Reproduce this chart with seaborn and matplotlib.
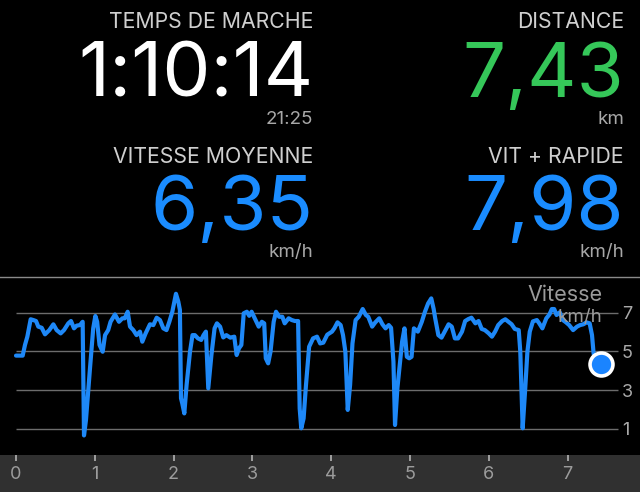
import matplotlib
matplotlib.use('Agg')
import matplotlib.pyplot as plt
from matplotlib.patches import Rectangle
import seaborn as sns

# speed trace: distance (km) vs speed (km/h)
dist = [0.00, 0.085, 0.114, 0.144, 0.186, 0.22, 0.254, 0.283, 0.326, 0.368,
        0.423, 0.474, 0.516, 0.567, 0.609, 0.664, 0.698, 0.736, 0.77, 0.812,
        0.846, 0.863, 0.888, 0.939, 0.98, 1.007, 1.03, 1.06, 1.10, 1.13,
        1.17, 1.20, 1.256, 1.307, 1.35, 1.38, 1.417, 1.447, 1.489, 1.53,
        1.573, 1.603, 1.645, 1.70, 1.743, 1.785, 1.827, 1.87, 1.91, 1.946,
        1.984, 2.03, 2.06, 2.08, 2.094, 2.11, 2.136, 2.165, 2.208, 2.24,
        2.27, 2.31, 2.35, 2.38, 2.41, 2.44, 2.48, 2.52, 2.55, 2.59,
        2.63, 2.67, 2.72, 2.77, 2.80, 2.83, 2.86, 2.89, 2.93, 2.96,
        2.99, 3.03, 3.08, 3.12, 3.15, 3.17, 3.20, 3.23, 3.27, 3.30,
        3.34, 3.38, 3.41, 3.46, 3.50, 3.54, 3.58, 3.60, 3.62, 3.65,
        3.68, 3.72, 3.77, 3.82, 3.86, 3.90, 3.95, 4.01, 4.04, 4.08,
        4.12, 4.15, 4.18, 4.21, 4.24, 4.27, 4.31, 4.35, 4.40, 4.44,
        4.47, 4.52, 4.56, 4.61, 4.65, 4.69, 4.73, 4.76, 4.79, 4.81,
        4.84, 4.90, 4.93, 4.96, 4.99, 5.02, 5.05, 5.10, 5.15, 5.19,
        5.23, 5.27, 5.30, 5.32, 5.36, 5.40, 5.44, 5.49, 5.53, 5.57,
        5.61, 5.66, 5.70, 5.74, 5.78, 5.83, 5.87, 5.91, 5.95, 6.00,
        6.04, 6.08, 6.12, 6.17, 6.21, 6.25, 6.29, 6.33, 6.38, 6.40,
        6.43, 6.46, 6.49, 6.52, 6.56, 6.61, 6.64, 6.68, 6.73, 6.77,
        6.80, 6.83, 6.86, 6.90, 6.94, 6.98, 7.02, 7.07, 7.12, 7.16,
        7.20, 7.24, 7.28, 7.31, 7.33, 7.35, 7.43]
speed = [4.78, 4.78, 5.33, 5.76, 6.66, 6.62, 6.57, 6.28, 6.22, 5.88,
         6.10, 6.40, 6.10, 5.93, 6.10, 6.45, 6.57, 6.19, 6.33, 6.36,
         6.53, 0.65, 1.45, 4.12, 6.19, 6.83, 6.53, 5.33, 4.98, 5.84,
         6.10, 6.53, 6.91, 6.53, 6.71, 6.71, 7.05, 6.28, 6.10, 5.84,
         6.02, 5.50, 5.93, 6.40, 6.36, 6.74, 6.62, 6.19, 6.10, 6.53,
         7.05, 7.98, 7.57, 7.14, 2.57, 2.31, 1.79, 3.26, 4.98, 5.84,
         5.84, 5.67, 5.59, 5.84, 6.02, 3.09, 4.81, 6.19, 6.45, 6.28,
         5.72, 5.84, 5.71, 5.76, 4.81, 5.16, 5.33, 6.97, 7.05, 6.84,
         7.05, 6.71, 6.28, 6.53, 6.45, 4.64, 4.38, 4.98, 6.53, 7.05,
         6.79, 6.79, 6.45, 6.71, 6.62, 6.57, 6.57, 2.05, 1.02, 1.53,
         3.26, 5.24, 5.67, 5.76, 5.41, 5.45, 5.86, 6.02, 6.19, 6.50,
         6.36, 5.84, 4.98, 1.97, 3.26, 5.41, 6.62, 6.79, 7.19, 6.88,
         6.79, 6.28, 6.50, 6.71, 6.40, 6.19, 6.36, 6.22, 4.47, 1.19,
         3.09, 5.50, 6.19, 4.72, 4.64, 4.72, 6.19, 6.02, 6.53, 7.05,
         7.48, 7.74, 7.20, 6.71, 5.84, 5.71, 6.02, 6.40, 6.28, 5.67,
         5.67, 6.02, 6.57, 6.67, 6.74, 6.45, 6.57, 6.16, 6.10, 5.93,
         5.76, 6.02, 6.36, 6.57, 6.66, 6.53, 6.40, 6.16, 6.10, 4.98,
         1.02, 2.91, 4.98, 6.02, 6.55, 6.62, 6.45, 6.19, 6.71, 6.91,
         7.19, 7.19, 6.88, 7.02, 6.62, 6.50, 6.36, 6.10, 6.28, 6.36,
         6.40, 6.50, 6.45, 5.84, 4.90, 4.55, 4.33]

grid_speeds = [1, 3, 5, 7]
km_ticks = [0, 1, 2, 3, 4, 5, 6, 7]

# summary figures above the chart
stat_labels = ['TEMPS DE MARCHE', 'DISTANCE', 'VITESSE MOYENNE', 'VIT + RAPIDE']
stat_values = ['1:10:14', '7,43', '6,35', '7,98']
stat_units = ['21:25', 'km', 'km/h', 'km/h']
stat_colors = ['#ffffff', '#35c759', '#1a8cff', '#1a8cff']

BLUE = '#1e88f7'
W, H = 640, 492

sns.set_style('dark', {'axes.facecolor': 'black', 'figure.facecolor': 'black'})
plt.rcParams['font.family'] = ['Inter', 'Roboto', 'DejaVu Sans']


def fx(px):
    return px / W


def fy(py):
    return 1 - py / H


fig = plt.figure(figsize=(W / 100, H / 100), dpi=100, facecolor='black')

# dark strip behind the km labels (drawn under the axes)
fig.patches.append(Rectangle((0, 0), 1, 37 / H, transform=fig.transFigure,
                             facecolor='#303030', edgecolor='none', zorder=-5))

# stats block
right_edges = [313, 624]
label_base = [28, 163]
value_base = [96.5, 230]
unit_base = [123.5, 257]
for i in range(4):
    col, row = i % 2, i // 2
    xr = fx(right_edges[col])
    fig.text(xr, fy(label_base[row]), stat_labels[i], ha='right', va='baseline',
             color='#cfcfcf', fontsize=15.3)
    fig.text(xr, fy(value_base[row]), stat_values[i], ha='right', va='baseline',
             color=stat_colors[i], fontsize=55)
    fig.text(xr, fy(unit_base[row]), stat_units[i], ha='right', va='baseline',
             color='#a8a8a8', fontsize=13.5)

# chart
ax = fig.add_axes([0, 37 / H, 1, 178 / H])
ax.set_facecolor('black')

ax.hlines(grid_speeds, 0, 7.64, color='#6c6c6c', lw=1, zorder=1)
sns.lineplot(x=dist, y=speed, ax=ax, color=BLUE, lw=3, estimator=None,
             sort=False, zorder=3)
ax.plot(dist[-1], speed[-1], 'o', ms=16.5, mfc='#1a84ff', mec='white', mew=2.6,
        zorder=5, clip_on=False)

ax.set_xlim(-0.203, 7.919)
ax.set_ylim(-0.362, 8.847)
ax.set_xlabel('')
ax.set_ylabel('')
ax.grid(False)

for side in ['left', 'right', 'bottom']:
    ax.spines[side].set_visible(False)
ax.spines['top'].set_visible(True)
ax.spines['top'].set_color('#8a8a8a')
ax.spines['top'].set_linewidth(1)

ax.set_xticks(km_ticks)
ax.set_xticklabels([str(k) for k in km_ticks])
ax.tick_params(axis='x', direction='out', length=4.3, width=1.1, color='#bdbdbd',
               labelcolor='#9c9c9c', labelsize=13, pad=3.5, bottom=True)

ax.yaxis.set_ticks_position('right')
ax.set_yticks(grid_speeds)
ax.set_yticklabels([str(v) for v in grid_speeds])
ax.tick_params(axis='y', length=0, labelcolor='#a8a8a8', labelsize=13, pad=-13)

ax.text(fx(602.5), fy(301), 'Vitesse', transform=fig.transFigure, ha='right',
        va='baseline', color='#9a9a9a', fontsize=15.5, zorder=6)
ax.text(fx(602.5), fy(321.5), 'km/h', transform=fig.transFigure, ha='right',
        va='baseline', color='#9a9a9a', fontsize=13.5, zorder=6)

fig.savefig('out.png', dpi=100, facecolor='black')
